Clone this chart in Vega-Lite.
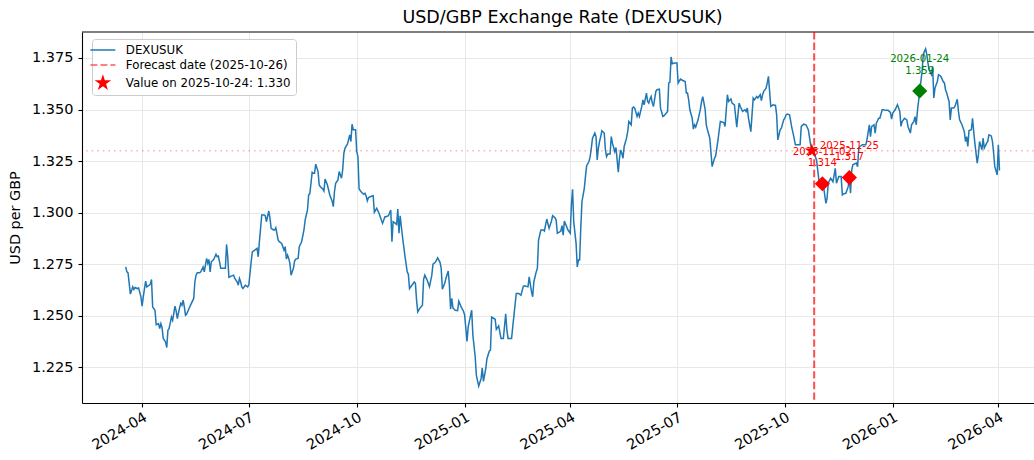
{
  "$schema": "https://vega.github.io/schema/vega-lite/v6.json",
  "width": 952,
  "height": 371,
  "autosize": {"type": "none"},
  "padding": {"left": 82, "top": 32, "right": 0, "bottom": 57},
  "background": "white",
  "title": {"text": "USD/GBP Exchange Rate (DEXUSUK)", "font": "DejaVu Sans", "fontSize": 17.5, "fontWeight": "normal", "color": "black", "anchor": "middle", "offset": 9, "baseline": "alphabetic", "dx": 4.5, "dy": 18.5},
  "config": {
    "view": {"stroke": null},
    "axis": {"labelFont": "DejaVu Sans", "titleFont": "DejaVu Sans", "labelColor": "black", "titleColor": "black", "tickColor": "black", "domainColor": "black", "domainWidth": 1.1, "tickWidth": 1.1, "gridColor": "#e8e8e8", "gridWidth": 1}
  },
  "datasets": {
    "series": [
      {"date":"2024-03-18","value":1.2737},{"date":"2024-03-19","value":1.2713},{"date":"2024-03-20","value":1.2708},{"date":"2024-03-22","value":1.2605},{"date":"2024-03-24","value":1.2640},{"date":"2024-03-25","value":1.2628},{"date":"2024-03-26","value":1.2637},{"date":"2024-03-28","value":1.2632},{"date":"2024-03-29","value":1.2635},{"date":"2024-03-31","value":1.2592},
      {"date":"2024-04-01","value":1.2547},{"date":"2024-04-02","value":1.2592},{"date":"2024-04-04","value":1.2668},{"date":"2024-04-05","value":1.2640},{"date":"2024-04-07","value":1.2648},{"date":"2024-04-08","value":1.2653},{"date":"2024-04-09","value":1.2676},{"date":"2024-04-10","value":1.2543},{"date":"2024-04-12","value":1.2527},{"date":"2024-04-13","value":1.2457},{"date":"2024-04-14","value":1.2459},{"date":"2024-04-15","value":1.2462},{"date":"2024-04-16","value":1.2438},{"date":"2024-04-17","value":1.2462},{"date":"2024-04-18","value":1.2443},{"date":"2024-04-19","value":1.2390},{"date":"2024-04-21","value":1.2373},{"date":"2024-04-22","value":1.2346},{"date":"2024-04-23","value":1.2430},{"date":"2024-04-24","value":1.2438},{"date":"2024-04-26","value":1.2494},{"date":"2024-04-27","value":1.2478},{"date":"2024-04-28","value":1.2511},{"date":"2024-04-29","value":1.2547},{"date":"2024-04-30","value":1.2524},
      {"date":"2024-05-01","value":1.2486},{"date":"2024-05-03","value":1.2540},{"date":"2024-05-04","value":1.2560},{"date":"2024-05-05","value":1.2551},{"date":"2024-05-06","value":1.2576},{"date":"2024-05-07","value":1.2543},{"date":"2024-05-08","value":1.2503},{"date":"2024-05-09","value":1.2508},{"date":"2024-05-11","value":1.2535},{"date":"2024-05-13","value":1.2560},{"date":"2024-05-15","value":1.2584},{"date":"2024-05-16","value":1.2665},{"date":"2024-05-17","value":1.2697},{"date":"2024-05-18","value":1.2708},{"date":"2024-05-20","value":1.2708},{"date":"2024-05-21","value":1.2713},{"date":"2024-05-23","value":1.2737},{"date":"2024-05-24","value":1.2713},{"date":"2024-05-25","value":1.2746},{"date":"2024-05-26","value":1.2778},{"date":"2024-05-27","value":1.2754},{"date":"2024-05-28","value":1.2773},{"date":"2024-05-29","value":1.2713},{"date":"2024-05-30","value":1.2762},
      {"date":"2024-06-01","value":1.2773},{"date":"2024-06-03","value":1.2798},{"date":"2024-06-04","value":1.2786},{"date":"2024-06-05","value":1.2789},{"date":"2024-06-06","value":1.2762},{"date":"2024-06-07","value":1.2730},{"date":"2024-06-09","value":1.2730},{"date":"2024-06-11","value":1.2730},{"date":"2024-06-12","value":1.2846},{"date":"2024-06-13","value":1.2786},{"date":"2024-06-14","value":1.2686},{"date":"2024-06-16","value":1.2692},{"date":"2024-06-18","value":1.2697},{"date":"2024-06-19","value":1.2681},{"date":"2024-06-21","value":1.2665},{"date":"2024-06-22","value":1.2648},{"date":"2024-06-23","value":1.2681},{"date":"2024-06-24","value":1.2665},{"date":"2024-06-25","value":1.2640},{"date":"2024-06-26","value":1.2632},{"date":"2024-06-28","value":1.2648},{"date":"2024-06-30","value":1.2640},
      {"date":"2024-07-01","value":1.2650},{"date":"2024-07-03","value":1.2762},{"date":"2024-07-04","value":1.2810},{"date":"2024-07-06","value":1.2818},{"date":"2024-07-08","value":1.2827},{"date":"2024-07-09","value":1.2786},{"date":"2024-07-10","value":1.2859},{"date":"2024-07-11","value":1.2924},{"date":"2024-07-12","value":1.2989},{"date":"2024-07-14","value":1.2989},{"date":"2024-07-15","value":1.2985},{"date":"2024-07-16","value":1.2956},{"date":"2024-07-18","value":1.3008},{"date":"2024-07-19","value":1.2973},{"date":"2024-07-20","value":1.2924},{"date":"2024-07-22","value":1.2916},{"date":"2024-07-23","value":1.2916},{"date":"2024-07-24","value":1.2927},{"date":"2024-07-26","value":1.2867},{"date":"2024-07-27","value":1.2859},{"date":"2024-07-29","value":1.2851},{"date":"2024-07-31","value":1.2818},
      {"date":"2024-08-01","value":1.2835},{"date":"2024-08-02","value":1.2775},{"date":"2024-08-03","value":1.2794},{"date":"2024-08-04","value":1.2778},{"date":"2024-08-05","value":1.2754},{"date":"2024-08-06","value":1.2697},{"date":"2024-08-08","value":1.2730},{"date":"2024-08-09","value":1.2765},{"date":"2024-08-10","value":1.2775},{"date":"2024-08-12","value":1.2778},{"date":"2024-08-13","value":1.2835},{"date":"2024-08-15","value":1.2859},{"date":"2024-08-17","value":1.2916},{"date":"2024-08-18","value":1.2964},{"date":"2024-08-20","value":1.3013},{"date":"2024-08-21","value":1.3086},{"date":"2024-08-22","value":1.3092},{"date":"2024-08-24","value":1.3196},{"date":"2024-08-25","value":1.3191},{"date":"2024-08-26","value":1.3191},{"date":"2024-08-27","value":1.3235},{"date":"2024-08-29","value":1.3199},{"date":"2024-08-30","value":1.3134},{"date":"2024-08-31","value":1.3126},
      {"date":"2024-09-02","value":1.3115},{"date":"2024-09-03","value":1.3105},{"date":"2024-09-04","value":1.3163},{"date":"2024-09-06","value":1.3134},{"date":"2024-09-07","value":1.3110},{"date":"2024-09-08","value":1.3086},{"date":"2024-09-10","value":1.3057},{"date":"2024-09-11","value":1.3029},{"date":"2024-09-12","value":1.3102},{"date":"2024-09-13","value":1.3142},{"date":"2024-09-15","value":1.3159},{"date":"2024-09-16","value":1.3199},{"date":"2024-09-18","value":1.3167},{"date":"2024-09-19","value":1.3207},{"date":"2024-09-20","value":1.3288},{"date":"2024-09-21","value":1.3313},{"date":"2024-09-23","value":1.3332},{"date":"2024-09-24","value":1.3353},{"date":"2024-09-25","value":1.3377},{"date":"2024-09-26","value":1.3345},{"date":"2024-09-27","value":1.3429},{"date":"2024-09-28","value":1.3402},{"date":"2024-09-30","value":1.3402},
      {"date":"2024-10-01","value":1.3296},{"date":"2024-10-02","value":1.3272},{"date":"2024-10-03","value":1.3115},{"date":"2024-10-05","value":1.3099},{"date":"2024-10-07","value":1.3089},{"date":"2024-10-08","value":1.3094},{"date":"2024-10-09","value":1.3081},{"date":"2024-10-10","value":1.3057},{"date":"2024-10-11","value":1.3073},{"date":"2024-10-13","value":1.3078},{"date":"2024-10-15","value":1.3082},{"date":"2024-10-16","value":1.3002},{"date":"2024-10-18","value":1.3021},{"date":"2024-10-20","value":1.2997},{"date":"2024-10-21","value":1.2980},{"date":"2024-10-23","value":1.2948},{"date":"2024-10-25","value":1.2980},{"date":"2024-10-26","value":1.2980},{"date":"2024-10-28","value":1.2985},{"date":"2024-10-30","value":1.3013},{"date":"2024-10-31","value":1.2859},
      {"date":"2024-11-01","value":1.2956},{"date":"2024-11-03","value":1.2948},{"date":"2024-11-04","value":1.2943},{"date":"2024-11-05","value":1.3018},{"date":"2024-11-06","value":1.2900},{"date":"2024-11-07","value":1.2985},{"date":"2024-11-09","value":1.2883},{"date":"2024-11-11","value":1.2794},{"date":"2024-11-13","value":1.2713},{"date":"2024-11-14","value":1.2701},{"date":"2024-11-15","value":1.2632},{"date":"2024-11-17","value":1.2648},{"date":"2024-11-19","value":1.2664},{"date":"2024-11-20","value":1.2657},{"date":"2024-11-21","value":1.2576},{"date":"2024-11-22","value":1.2519},{"date":"2024-11-24","value":1.2538},{"date":"2024-11-26","value":1.2551},{"date":"2024-11-27","value":1.2677},{"date":"2024-11-28","value":1.2697},{"date":"2024-11-30","value":1.2673},
      {"date":"2024-12-02","value":1.2641},{"date":"2024-12-04","value":1.2697},{"date":"2024-12-05","value":1.2750},{"date":"2024-12-07","value":1.2759},{"date":"2024-12-09","value":1.2781},{"date":"2024-12-11","value":1.2759},{"date":"2024-12-12","value":1.2730},{"date":"2024-12-13","value":1.2629},{"date":"2024-12-15","value":1.2657},{"date":"2024-12-16","value":1.2681},{"date":"2024-12-18","value":1.2717},{"date":"2024-12-19","value":1.2648},{"date":"2024-12-20","value":1.2532},{"date":"2024-12-21","value":1.2584},{"date":"2024-12-22","value":1.2538},{"date":"2024-12-24","value":1.2527},{"date":"2024-12-26","value":1.2525},{"date":"2024-12-27","value":1.2571},{"date":"2024-12-29","value":1.2543},{"date":"2024-12-31","value":1.2522},
      {"date":"2025-01-01","value":1.2503},{"date":"2025-01-03","value":1.2376},{"date":"2025-01-04","value":1.2446},{"date":"2025-01-07","value":1.2527},{"date":"2025-01-08","value":1.2406},{"date":"2025-01-10","value":1.2300},{"date":"2025-01-11","value":1.2211},{"date":"2025-01-13","value":1.2159},{"date":"2025-01-15","value":1.2195},{"date":"2025-01-16","value":1.2247},{"date":"2025-01-17","value":1.2182},{"date":"2025-01-19","value":1.2244},{"date":"2025-01-20","value":1.2292},{"date":"2025-01-22","value":1.2328},{"date":"2025-01-23","value":1.2333},{"date":"2025-01-24","value":1.2494},{"date":"2025-01-27","value":1.2483},{"date":"2025-01-28","value":1.2434},{"date":"2025-01-30","value":1.2451},
      {"date":"2025-02-01","value":1.2390},{"date":"2025-02-03","value":1.2390},{"date":"2025-02-05","value":1.2510},{"date":"2025-02-06","value":1.2430},{"date":"2025-02-07","value":1.2390},{"date":"2025-02-10","value":1.2390},{"date":"2025-02-11","value":1.2446},{"date":"2025-02-14","value":1.2608},{"date":"2025-02-16","value":1.2608},{"date":"2025-02-18","value":1.2600},{"date":"2025-02-20","value":1.2643},{"date":"2025-02-21","value":1.2645},{"date":"2025-02-24","value":1.2640},{"date":"2025-02-25","value":1.2689},{"date":"2025-02-27","value":1.2616},{"date":"2025-02-28","value":1.2592},
      {"date":"2025-03-01","value":1.2665},{"date":"2025-03-03","value":1.2713},{"date":"2025-03-04","value":1.2730},{"date":"2025-03-05","value":1.2867},{"date":"2025-03-07","value":1.2916},{"date":"2025-03-09","value":1.2916},{"date":"2025-03-10","value":1.2911},{"date":"2025-03-12","value":1.2969},{"date":"2025-03-14","value":1.2924},{"date":"2025-03-16","value":1.2959},{"date":"2025-03-17","value":1.2985},{"date":"2025-03-19","value":1.2975},{"date":"2025-03-20","value":1.2964},{"date":"2025-03-21","value":1.2900},{"date":"2025-03-23","value":1.2907},{"date":"2025-03-24","value":1.2911},{"date":"2025-03-25","value":1.2937},{"date":"2025-03-26","value":1.2891},{"date":"2025-03-27","value":1.2959},{"date":"2025-03-29","value":1.2932},{"date":"2025-03-30","value":1.2916},
      {"date":"2025-04-01","value":1.2900},{"date":"2025-04-02","value":1.3037},{"date":"2025-04-03","value":1.3113},{"date":"2025-04-04","value":1.2956},{"date":"2025-04-06","value":1.2851},{"date":"2025-04-07","value":1.2737},{"date":"2025-04-08","value":1.2770},{"date":"2025-04-09","value":1.2770},{"date":"2025-04-10","value":1.2924},{"date":"2025-04-11","value":1.3053},{"date":"2025-04-13","value":1.3118},{"date":"2025-04-14","value":1.3175},{"date":"2025-04-15","value":1.3228},{"date":"2025-04-17","value":1.3248},{"date":"2025-04-18","value":1.3272},{"date":"2025-04-19","value":1.3313},{"date":"2025-04-20","value":1.3361},{"date":"2025-04-22","value":1.3386},{"date":"2025-04-23","value":1.3369},{"date":"2025-04-24","value":1.3256},{"date":"2025-04-25","value":1.3313},{"date":"2025-04-26","value":1.3345},{"date":"2025-04-27","value":1.3369},{"date":"2025-04-28","value":1.3397},{"date":"2025-04-30","value":1.3386},
      {"date":"2025-05-01","value":1.3304},{"date":"2025-05-02","value":1.3272},{"date":"2025-05-03","value":1.3284},{"date":"2025-05-05","value":1.3284},{"date":"2025-05-06","value":1.3369},{"date":"2025-05-07","value":1.3337},{"date":"2025-05-09","value":1.3296},{"date":"2025-05-10","value":1.3316},{"date":"2025-05-11","value":1.3256},{"date":"2025-05-12","value":1.3196},{"date":"2025-05-13","value":1.3264},{"date":"2025-05-14","value":1.3304},{"date":"2025-05-15","value":1.3288},{"date":"2025-05-16","value":1.3264},{"date":"2025-05-17","value":1.3321},{"date":"2025-05-19","value":1.3361},{"date":"2025-05-20","value":1.3393},{"date":"2025-05-21","value":1.3442},{"date":"2025-05-23","value":1.3426},{"date":"2025-05-24","value":1.3507},{"date":"2025-05-25","value":1.3512},{"date":"2025-05-26","value":1.3507},{"date":"2025-05-28","value":1.3466},{"date":"2025-05-29","value":1.3483},{"date":"2025-05-30","value":1.3466},{"date":"2025-05-31","value":1.3491},
      {"date":"2025-06-01","value":1.3515},{"date":"2025-06-02","value":1.3547},{"date":"2025-06-03","value":1.3523},{"date":"2025-06-05","value":1.3580},{"date":"2025-06-06","value":1.3539},{"date":"2025-06-07","value":1.3531},{"date":"2025-06-08","value":1.3551},{"date":"2025-06-09","value":1.3563},{"date":"2025-06-10","value":1.3531},{"date":"2025-06-11","value":1.3515},{"date":"2025-06-13","value":1.3588},{"date":"2025-06-14","value":1.3596},{"date":"2025-06-16","value":1.3599},{"date":"2025-06-17","value":1.3507},{"date":"2025-06-19","value":1.3466},{"date":"2025-06-20","value":1.3470},{"date":"2025-06-22","value":1.3483},{"date":"2025-06-23","value":1.3491},{"date":"2025-06-24","value":1.3629},{"date":"2025-06-25","value":1.3632},{"date":"2025-06-26","value":1.3755},{"date":"2025-06-27","value":1.3722},{"date":"2025-06-29","value":1.3726},
      {"date":"2025-07-01","value":1.3726},{"date":"2025-07-02","value":1.3629},{"date":"2025-07-04","value":1.3648},{"date":"2025-07-06","value":1.3641},{"date":"2025-07-08","value":1.3636},{"date":"2025-07-09","value":1.3580},{"date":"2025-07-10","value":1.3580},{"date":"2025-07-11","value":1.3547},{"date":"2025-07-12","value":1.3499},{"date":"2025-07-14","value":1.3458},{"date":"2025-07-15","value":1.3405},{"date":"2025-07-16","value":1.3426},{"date":"2025-07-17","value":1.3415},{"date":"2025-07-19","value":1.3450},{"date":"2025-07-21","value":1.3502},{"date":"2025-07-22","value":1.3539},{"date":"2025-07-23","value":1.3563},{"date":"2025-07-25","value":1.3502},{"date":"2025-07-26","value":1.3426},{"date":"2025-07-27","value":1.3402},{"date":"2025-07-29","value":1.3361},{"date":"2025-07-31","value":1.3223},
      {"date":"2025-08-02","value":1.3264},{"date":"2025-08-03","value":1.3275},{"date":"2025-08-05","value":1.3353},{"date":"2025-08-07","value":1.3442},{"date":"2025-08-10","value":1.3437},{"date":"2025-08-11","value":1.3418},{"date":"2025-08-13","value":1.3572},{"date":"2025-08-14","value":1.3539},{"date":"2025-08-16","value":1.3551},{"date":"2025-08-17","value":1.3531},{"date":"2025-08-19","value":1.3523},{"date":"2025-08-21","value":1.3415},{"date":"2025-08-23","value":1.3531},{"date":"2025-08-24","value":1.3515},{"date":"2025-08-26","value":1.3491},{"date":"2025-08-28","value":1.3499},{"date":"2025-08-29","value":1.3490},{"date":"2025-08-30","value":1.3507},{"date":"2025-08-31","value":1.3458},
      {"date":"2025-09-02","value":1.3393},{"date":"2025-09-03","value":1.3474},{"date":"2025-09-04","value":1.3556},{"date":"2025-09-05","value":1.3547},{"date":"2025-09-07","value":1.3563},{"date":"2025-09-08","value":1.3556},{"date":"2025-09-10","value":1.3572},{"date":"2025-09-11","value":1.3543},{"date":"2025-09-12","value":1.3572},{"date":"2025-09-13","value":1.3588},{"date":"2025-09-15","value":1.3604},{"date":"2025-09-16","value":1.3629},{"date":"2025-09-17","value":1.3661},{"date":"2025-09-18","value":1.3588},{"date":"2025-09-19","value":1.3515},{"date":"2025-09-21","value":1.3523},{"date":"2025-09-23","value":1.3520},{"date":"2025-09-24","value":1.3474},{"date":"2025-09-25","value":1.3353},{"date":"2025-09-27","value":1.3402},{"date":"2025-09-28","value":1.3410},{"date":"2025-09-30","value":1.3450},
      {"date":"2025-10-01","value":1.3458},{"date":"2025-10-02","value":1.3474},{"date":"2025-10-03","value":1.3478},{"date":"2025-10-05","value":1.3474},{"date":"2025-10-07","value":1.3410},{"date":"2025-10-08","value":1.3386},{"date":"2025-10-10","value":1.3329},{"date":"2025-10-11","value":1.3329},{"date":"2025-10-14","value":1.3329},{"date":"2025-10-15","value":1.3418},{"date":"2025-10-17","value":1.3429},{"date":"2025-10-19","value":1.3426},{"date":"2025-10-21","value":1.3402},{"date":"2025-10-23","value":1.3329},{"date":"2025-10-24","value":1.3300},{"date":"2025-10-26","value":1.3285},{"date":"2025-10-28","value":1.3256},{"date":"2025-10-30","value":1.3159},
      {"date":"2025-11-02","value":1.3140},{"date":"2025-11-03","value":1.3126},{"date":"2025-11-05","value":1.3045},{"date":"2025-11-06","value":1.3070},{"date":"2025-11-07","value":1.3143},{"date":"2025-11-09","value":1.3167},{"date":"2025-11-11","value":1.3150},{"date":"2025-11-13","value":1.3215},{"date":"2025-11-14","value":1.3143},{"date":"2025-11-16","value":1.3175},{"date":"2025-11-18","value":1.3175},{"date":"2025-11-19","value":1.3086},{"date":"2025-11-20","value":1.3091},{"date":"2025-11-22","value":1.3094},{"date":"2025-11-24","value":1.3126},{"date":"2025-11-25","value":1.3170},{"date":"2025-11-26","value":1.3094},{"date":"2025-11-27","value":1.3207},{"date":"2025-11-28","value":1.3232},
      {"date":"2025-12-01","value":1.3240},{"date":"2025-12-02","value":1.3223},{"date":"2025-12-03","value":1.3313},{"date":"2025-12-04","value":1.3321},{"date":"2025-12-06","value":1.3329},{"date":"2025-12-07","value":1.3329},{"date":"2025-12-09","value":1.3329},{"date":"2025-12-10","value":1.3353},{"date":"2025-12-12","value":1.3426},{"date":"2025-12-13","value":1.3369},{"date":"2025-12-14","value":1.3418},{"date":"2025-12-16","value":1.3426},{"date":"2025-12-17","value":1.3386},{"date":"2025-12-18","value":1.3434},{"date":"2025-12-20","value":1.3458},{"date":"2025-12-21","value":1.3458},{"date":"2025-12-23","value":1.3499},{"date":"2025-12-24","value":1.3499},{"date":"2025-12-26","value":1.3496},{"date":"2025-12-28","value":1.3496},{"date":"2025-12-30","value":1.3486},{"date":"2025-12-31","value":1.3454},
      {"date":"2026-01-01","value":1.3483},{"date":"2026-01-03","value":1.3499},{"date":"2026-01-05","value":1.3523},{"date":"2026-01-07","value":1.3491},{"date":"2026-01-08","value":1.3418},{"date":"2026-01-09","value":1.3442},{"date":"2026-01-11","value":1.3458},{"date":"2026-01-13","value":1.3450},{"date":"2026-01-14","value":1.3418},{"date":"2026-01-16","value":1.3386},{"date":"2026-01-17","value":1.3426},{"date":"2026-01-19","value":1.3442},{"date":"2026-01-20","value":1.3466},{"date":"2026-01-21","value":1.3426},{"date":"2026-01-22","value":1.3491},{"date":"2026-01-24","value":1.3590},{"date":"2026-01-26","value":1.3685},{"date":"2026-01-27","value":1.3766},{"date":"2026-01-28","value":1.3782},{"date":"2026-01-29","value":1.3794},{"date":"2026-01-30","value":1.3766},{"date":"2026-01-31","value":1.3726},
      {"date":"2026-02-01","value":1.3693},{"date":"2026-02-03","value":1.3669},{"date":"2026-02-04","value":1.3709},{"date":"2026-02-05","value":1.3556},{"date":"2026-02-06","value":1.3604},{"date":"2026-02-08","value":1.3636},{"date":"2026-02-09","value":1.3669},{"date":"2026-02-11","value":1.3661},{"date":"2026-02-13","value":1.3636},{"date":"2026-02-14","value":1.3629},{"date":"2026-02-15","value":1.3596},{"date":"2026-02-16","value":1.3580},{"date":"2026-02-18","value":1.3539},{"date":"2026-02-19","value":1.3450},{"date":"2026-02-20","value":1.3507},{"date":"2026-02-22","value":1.3507},{"date":"2026-02-23","value":1.3515},{"date":"2026-02-25","value":1.3550},{"date":"2026-02-26","value":1.3491},{"date":"2026-02-27","value":1.3450},
      {"date":"2026-03-01","value":1.3426},{"date":"2026-03-03","value":1.3393},{"date":"2026-03-04","value":1.3345},{"date":"2026-03-05","value":1.3369},{"date":"2026-03-06","value":1.3321},{"date":"2026-03-07","value":1.3398},{"date":"2026-03-09","value":1.3402},{"date":"2026-03-10","value":1.3458},{"date":"2026-03-11","value":1.3393},{"date":"2026-03-12","value":1.3337},{"date":"2026-03-14","value":1.3240},{"date":"2026-03-15","value":1.3280},{"date":"2026-03-16","value":1.3345},{"date":"2026-03-18","value":1.3305},{"date":"2026-03-19","value":1.3361},{"date":"2026-03-20","value":1.3313},{"date":"2026-03-22","value":1.3337},{"date":"2026-03-23","value":1.3345},{"date":"2026-03-24","value":1.3377},{"date":"2026-03-26","value":1.3372},{"date":"2026-03-27","value":1.3345},{"date":"2026-03-28","value":1.3288},{"date":"2026-03-29","value":1.3223},{"date":"2026-03-31","value":1.3183},
      {"date":"2026-04-01","value":1.3329},{"date":"2026-04-02","value":1.3204}
    ],
    "forecast": [{"date": "2025-10-26"}],
    "current": [{"date": "2025-10-24", "value": 1.330}],
    "reference": [{"level": 1.330}],
    "frame": [{"level": 1.3876}],
    "lows": [
      {"date": "2025-11-02", "value": 1.314, "label": "2025-11-02\n1.314"},
      {"date": "2025-11-25", "value": 1.317, "label": "2025-11-25\n1.317"}
    ],
    "highs": [
      {"date": "2026-01-24", "value": 1.359, "label": "2026-01-24\n1.359"}
    ]
  },
  "layer": [
    {
      "data": {"name": "series"},
      "mark": {"type": "line", "strokeWidth": 1.5},
      "encoding": {
        "x": {
          "field": "date", "type": "temporal",
          "scale": {"type": "utc", "domain": [{"year": 2024, "month": 2, "date": 9, "hours": 18, "utc": true}, {"year": 2026, "month": 5, "date": 1, "hours": 10, "utc": true}]},
          "axis": {
            "title": null, "format": "%Y-%m",
            "values": [
              {"year": 2024, "month": 4, "date": 1, "utc": true},
              {"year": 2024, "month": 7, "date": 1, "utc": true},
              {"year": 2024, "month": 10, "date": 1, "utc": true},
              {"year": 2025, "month": 1, "date": 1, "utc": true},
              {"year": 2025, "month": 4, "date": 1, "utc": true},
              {"year": 2025, "month": 7, "date": 1, "utc": true},
              {"year": 2025, "month": 10, "date": 1, "utc": true},
              {"year": 2026, "month": 1, "date": 1, "utc": true},
              {"year": 2026, "month": 4, "date": 1, "utc": true}
            ],
            "labelAngle": -30, "labelAlign": "right", "labelBaseline": "top",
            "labelFontSize": 14.5, "labelPadding": 3, "tickSize": 4,
            "grid": true, "labelFlush": false, "labelOverlap": false
          }
        },
        "y": {
          "field": "value", "type": "quantitative",
          "scale": {"domain": [1.2077, 1.3876], "nice": false, "zero": false},
          "axis": {
            "title": "USD per GBP", "titleFontSize": 14.4, "titleFontWeight": "normal", "titlePadding": 9,
            "values": [1.225, 1.25, 1.275, 1.3, 1.325, 1.35, 1.375], "format": ".3f",
            "labelFontSize": 14.5, "labelPadding": 5, "tickSize": 4, "grid": true
          }
        },
        "color": {
          "datum": "DEXUSUK",
          "scale": {"domain": ["DEXUSUK", "Forecast date (2025-10-26)", "Value on 2025-10-24: 1.330"], "range": ["#1f77b4", "#ff4d4d", "#ff0000"]},
          "legend": {
            "title": null, "orient": "none", "legendX": 10, "legendY": 7, "padding": 5,
            "fillColor": "white", "strokeColor": "#cccccc", "cornerRadius": 3,
            "labelFont": "DejaVu Sans", "labelFontSize": 11.8, "labelColor": "black", "labelLimit": 400,
            "labelOffset": 17, "symbolSize": 625, "rowPadding": 2, "symbolType": "stroke", "symbolStrokeWidth": 1.5,
            "encode": {
              "symbols": {
                "update": {
                  "shape": {"signal": "datum.value === 'Value on 2025-10-24: 1.330' ? 'M0,-1L0.2245,-0.309L0.951,-0.309L0.363,0.118L0.588,0.809L0,0.382L-0.588,0.809L-0.363,0.118L-0.951,-0.309L-0.2245,-0.309Z' : 'stroke'"},
                  "size": {"signal": "datum.value === 'Value on 2025-10-24: 1.330' ? 300 : 625"},
                  "fill": {"signal": "datum.value === 'Value on 2025-10-24: 1.330' ? '#ff0000' : 'transparent'"},
                  "stroke": {"signal": "datum.value === 'DEXUSUK' ? '#1f77b4' : '#ff0000'"},
                  "strokeWidth": {"signal": "datum.value === 'Value on 2025-10-24: 1.330' ? 0 : (datum.value === 'DEXUSUK' ? 1.5 : 2)"},
                  "strokeDash": {"signal": "datum.value === 'Forecast date (2025-10-26)' ? [7, 3] : [1, 0]"},
                  "opacity": {"signal": "datum.value === 'Forecast date (2025-10-26)' ? 0.7 : 1"}
                }
              }
            }
          }
        }
      }
    },
    {
      "data": {"name": "frame"},
      "mark": {"type": "rule", "color": "black", "strokeWidth": 1.1},
      "encoding": {"y": {"field": "level", "type": "quantitative"}}
    },
    {
      "data": {"name": "reference"},
      "mark": {"type": "rule", "color": "#ff0000", "opacity": 0.3, "strokeWidth": 1.6, "strokeDash": [1.6, 4]},
      "encoding": {"y": {"field": "level", "type": "quantitative"}}
    },
    {
      "data": {"name": "forecast"},
      "mark": {"type": "rule", "color": "#ff0000", "opacity": 0.7, "strokeWidth": 2, "strokeDash": [7.4, 3.2]},
      "encoding": {"x": {"field": "date", "type": "temporal"}}
    },
    {
      "data": {"name": "current"},
      "mark": {"type": "point", "shape": "M0,-1L0.2245,-0.309L0.951,-0.309L0.363,0.118L0.588,0.809L0,0.382L-0.588,0.809L-0.363,0.118L-0.951,-0.309L-0.2245,-0.309Z", "filled": true, "color": "#ff0000", "size": 226, "opacity": 1},
      "encoding": {
        "x": {"field": "date", "type": "temporal"},
        "y": {"field": "value", "type": "quantitative"}
      }
    },
    {
      "data": {"name": "lows"},
      "mark": {"type": "square", "color": "#ff0000", "size": 115, "angle": 45, "opacity": 1},
      "encoding": {
        "x": {"field": "date", "type": "temporal"},
        "y": {"field": "value", "type": "quantitative"}
      }
    },
    {
      "data": {"name": "highs"},
      "mark": {"type": "square", "color": "#008000", "size": 115, "angle": 45, "opacity": 1},
      "encoding": {
        "x": {"field": "date", "type": "temporal"},
        "y": {"field": "value", "type": "quantitative"}
      }
    },
    {
      "data": {"name": "lows"},
      "mark": {"type": "text", "font": "DejaVu Sans", "fontSize": 10.2, "color": "#ff0000", "align": "center", "baseline": "bottom", "dy": -27, "lineBreak": "\n", "lineHeight": 11.7},
      "encoding": {
        "x": {"field": "date", "type": "temporal"},
        "y": {"field": "value", "type": "quantitative"},
        "text": {"field": "label", "type": "nominal"}
      }
    },
    {
      "data": {"name": "highs"},
      "mark": {"type": "text", "font": "DejaVu Sans", "fontSize": 10.2, "color": "#008000", "align": "center", "baseline": "bottom", "dy": -27, "lineBreak": "\n", "lineHeight": 11.7},
      "encoding": {
        "x": {"field": "date", "type": "temporal"},
        "y": {"field": "value", "type": "quantitative"},
        "text": {"field": "label", "type": "nominal"}
      }
    }
  ]
}
